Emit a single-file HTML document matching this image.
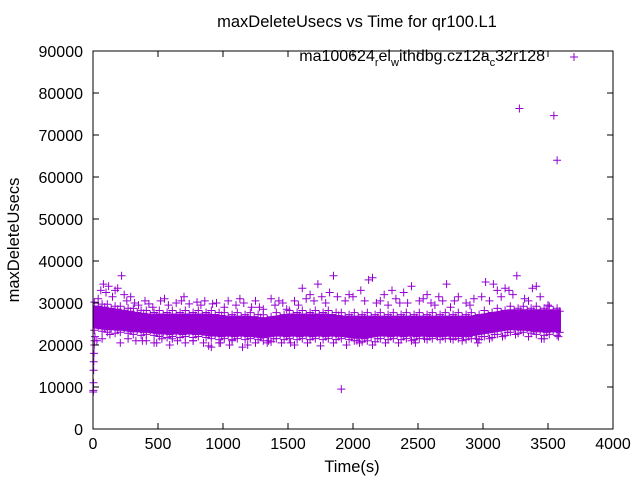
<!DOCTYPE html>
<html><head><meta charset="utf-8"><style>
body{margin:0;background:#fff}
svg{display:block;font-family:"Liberation Sans",sans-serif}
</style></head><body>
<svg id="c" width="640" height="480"></svg>
<script>
const xTicks=[0,500,1000,1500,2000,2500,3000,3500,4000];
const yTicks=[0,10000,20000,30000,40000,50000,60000,70000,80000,90000];
const bandTimes=[0,100,200,300,400,500,600,700,800,900,1000,1100,1200,1300,1400,1500,1600,1700,1800,1900,2000,2100,2200,2300,2400,2500,2600,2700,2800,2900,3000,3100,3200,3300,3400,3500,3600];
const bandLow=[24000,23500,23500,23000,23000,22500,22500,22500,22500,22000,22000,22000,22000,21500,22000,22000,22000,22000,22000,22000,21500,21500,22000,22000,22000,22000,22000,22000,22000,22000,22500,23000,23500,23500,23000,23000,23000];
const bandHigh=[29500,29000,28500,28000,27500,27500,27500,27500,27500,27500,27000,27000,27000,26500,27000,27500,27500,27500,27500,27000,27000,27000,27000,27000,27000,27000,27000,27000,27000,27000,27500,28000,28500,28500,28500,28500,28500];
const ptTimes=[2,3,4,5,6,8,10,12,15,40,60,80,100,120,150,170,190,220,240,260,290,320,350,380,400,430,460,490,520,550,580,610,640,680,700,740,770,800,830,860,890,920,950,980,1010,1040,1070,1100,1130,1160,1190,1220,1250,1280,1310,1340,1370,1400,1430,1460,1490,1520,1550,1580,1610,1640,1670,1700,1730,1760,1790,1820,1850,1880,1910,1940,1970,2000,2030,2060,2090,2120,2150,2180,2210,2240,2270,2300,2330,2360,2390,2420,2450,2480,2510,2540,2570,2600,2630,2660,2690,2720,2750,2780,2810,2840,2870,2900,2930,2960,2990,3020,3050,3080,3110,3140,3170,3200,3230,3260,3320,3350,3380,3410,3440,3470,3500,3530,3560,3590];
const ptValues=[8800,9200,11000,14000,16000,18000,20000,21000,22000,31000,33000,34500,32500,34000,31500,33000,33500,36500,32000,30500,31500,30000,29500,21000,30500,29800,29000,20500,30500,31000,29500,21500,30000,30500,31500,29800,21000,30200,29500,30500,19800,29800,30000,20500,29000,30500,21000,29500,31000,30000,20000,29000,30500,29000,28500,20500,31000,29500,30500,30000,28500,20500,30500,29500,33500,31000,32000,30500,34500,31500,30000,32500,36500,31500,9500,30500,32000,31500,21000,33000,30500,35500,36000,30000,30500,32000,29500,33000,31000,30000,32500,30000,34000,20500,30500,31000,32000,30000,29500,31500,30500,34500,29000,30500,31500,21000,30000,29500,31000,20500,31500,35000,30500,34500,33000,31500,33500,33000,32000,36500,31000,30500,33500,34000,31500,21500,29500,27500];
const outTimes=[3280,3545,3570];
const outValues=[76300,74600,64000];
const loTimes=[30,70,130,210,270,330,410,470,530,590,650,710,770,850,910,970,1050,1150,1250,1350,1450,1550,1650,1750,1850,1950,2050,2150,2250,2350,2450,2550,2650,2750,2850,2950,3050,3150,3250,3350,3450,3580];
const loValues=[21000,21500,22500,20500,21500,21000,21000,20500,21500,20000,21000,20500,21000,20500,19500,20500,20000,19500,20500,21000,20500,20000,20500,19800,20500,20000,20500,20000,20500,20500,21000,21500,22000,21500,22000,21500,21500,22000,22500,22000,21500,22000];
const W=640,H=480,x0=93,x1=613,y0=429,y1=51;
const sx=v=>x0+(v-0)/4000*(x1-x0), sy=v=>y0-(v-0)/90000*(y0-y1);
const svg=document.getElementById('c'),NS='http://www.w3.org/2000/svg';
function mk(t,a,p){const e=document.createElementNS(NS,t);for(const k in a)e.setAttribute(k,a[k]);(p||svg).appendChild(e);return e;}
let d='';bandTimes.forEach((t,i)=>{d+=(i?'L':'M')+sx(t)+','+sy(bandHigh[i]);});
for(let i=bandTimes.length-1;i>=0;i--)d+='L'+sx(bandTimes[i])+','+sy(bandLow[i]);
const band=mk('path',{d:d+'Z',fill:'#9400d3'});


const g=mk('g',{stroke:'#9400d3','stroke-width':1});


function cross(x,y){mk('path',{d:`M${x-4},${y}h8M${x},${y-4}v8`},g);}
const offs=[[10,-3,2],[40,1,-2],[70,-1,3],[90,2,0]];
bandTimes.forEach((t,i)=>{if(t>=3600)return;offs.forEach(o=>{const tt=t+o[0];cross(sx(tt),sy(bandHigh[i])+o[1]);cross(sx(tt),sy(bandLow[i])+o[2]);});});
ptTimes.forEach((t,i)=>cross(sx(t),sy(ptValues[i])));
loTimes.forEach((t,i)=>cross(sx(t),sy(loValues[i])));
outTimes.forEach((t,i)=>cross(sx(t),sy(outValues[i])));
const fr=mk('rect',{x:x0,y:y1,width:x1-x0,height:y0-y1,fill:'none',stroke:'#000','stroke-width':1});


xTicks.forEach(v=>{const x=sx(v);mk('path',{d:`M${x},${y0}v-6M${x},${y1}v6`,stroke:'#000'});
 const t=mk('text',{x:x,y:y0+20,'text-anchor':'middle','font-size':16});t.textContent=v;
 
 });
yTicks.forEach(v=>{const y=sy(v);mk('path',{d:`M${x0},${y}h6M${x1},${y}h-6`,stroke:'#000'});
 const t=mk('text',{x:x0-10,y:y+6,'text-anchor':'end','font-size':16});t.textContent=v;
 
 });
</script>
<svg width="640" height="480" style="position:absolute;left:0;top:0" font-family="Liberation Sans, sans-serif">
<text x="357" y="27" text-anchor="middle" font-size="16.5">maxDeleteUsecs vs Time for qr100.L1</text>
<text x="352" y="472" text-anchor="middle" font-size="16.5">Time(s)</text>
<text transform="translate(19,240) rotate(-90)" text-anchor="middle" font-size="16.5">maxDeleteUsecs</text>
<text x="545" y="61" text-anchor="end" font-size="16">ma100624<tspan font-size="11" dy="5">r</tspan><tspan dy="-5">el</tspan><tspan font-size="11" dy="5">w</tspan><tspan dy="-5">ithdbg.cz12a</tspan><tspan font-size="11" dy="5">c</tspan><tspan dy="-5">32r128</tspan></text>
<path d="M570,57h8M574,53v8" stroke="#9400d3"/>
</svg>
</body></html>
